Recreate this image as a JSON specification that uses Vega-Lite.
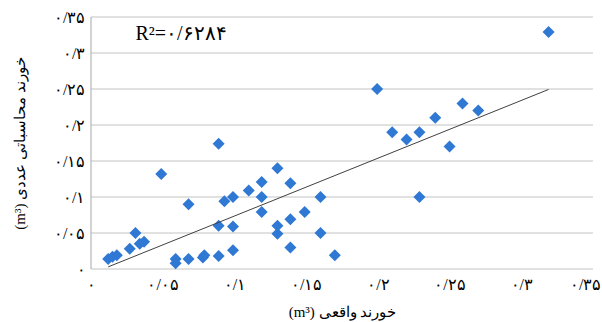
{
  "$schema": "https://vega.github.io/schema/vega-lite/v6.json",
  "width": 502,
  "height": 252,
  "autosize": {"type": "none"},
  "padding": {"left": 91, "top": 17, "right": 9, "bottom": 53},
  "background": "white",
  "config": {"view": {"stroke": "transparent"}},
  "datasets": {
    "points": [
      {"x": 0.012, "y": 0.014}, {"x": 0.015, "y": 0.017}, {"x": 0.018, "y": 0.019},
      {"x": 0.027, "y": 0.028}, {"x": 0.031, "y": 0.050}, {"x": 0.034, "y": 0.035},
      {"x": 0.037, "y": 0.038}, {"x": 0.049, "y": 0.132}, {"x": 0.059, "y": 0.014},
      {"x": 0.059, "y": 0.008}, {"x": 0.068, "y": 0.014}, {"x": 0.068, "y": 0.090},
      {"x": 0.078, "y": 0.016}, {"x": 0.079, "y": 0.019}, {"x": 0.089, "y": 0.174},
      {"x": 0.089, "y": 0.060}, {"x": 0.089, "y": 0.018}, {"x": 0.093, "y": 0.094},
      {"x": 0.099, "y": 0.100}, {"x": 0.099, "y": 0.059}, {"x": 0.099, "y": 0.026},
      {"x": 0.110, "y": 0.109}, {"x": 0.119, "y": 0.121}, {"x": 0.119, "y": 0.100},
      {"x": 0.119, "y": 0.079}, {"x": 0.130, "y": 0.140}, {"x": 0.130, "y": 0.060},
      {"x": 0.130, "y": 0.049}, {"x": 0.139, "y": 0.119}, {"x": 0.139, "y": 0.069},
      {"x": 0.139, "y": 0.030}, {"x": 0.149, "y": 0.079}, {"x": 0.160, "y": 0.100},
      {"x": 0.160, "y": 0.050}, {"x": 0.170, "y": 0.019}, {"x": 0.1995, "y": 0.250},
      {"x": 0.210, "y": 0.190}, {"x": 0.220, "y": 0.180}, {"x": 0.229, "y": 0.190},
      {"x": 0.229, "y": 0.100}, {"x": 0.240, "y": 0.210}, {"x": 0.250, "y": 0.170},
      {"x": 0.259, "y": 0.230}, {"x": 0.270, "y": 0.220}, {"x": 0.319, "y": 0.329}
    ],
    "hgrid": [
      {"x": 0, "x2": 0.35, "y": 0}, {"x": 0, "x2": 0.35, "y": 0.05}, {"x": 0, "x2": 0.35, "y": 0.1},
      {"x": 0, "x2": 0.35, "y": 0.15}, {"x": 0, "x2": 0.35, "y": 0.2}, {"x": 0, "x2": 0.35, "y": 0.25},
      {"x": 0, "x2": 0.35, "y": 0.3}, {"x": 0, "x2": 0.35, "y": 0.35}
    ],
    "vbase": [{"x": 0, "y": 0, "y2": 0.35}],
    "label": [{"x": 0.0628, "y": 0.326, "text": "R²=۰/۶۲۸۴"}]
  },
  "encoding": {
    "x": {
      "field": "x", "type": "quantitative",
      "scale": {"domain": [0, 0.35], "nice": false},
      "axis": {
        "title": "(m³) خورند واقعی",
        "values": [0, 0.05, 0.1, 0.15, 0.2, 0.25, 0.3, 0.35],
        "labelOverlap": false, "labelFlush": false,
        "labelAlign": {"condition": {"test": "datum.value >= 0.34", "value": "right"}, "value": "center"},
        "labelOffset": {"condition": {"test": "datum.value >= 0.34", "value": 8}, "value": 0},
        "grid": false, "tickSize": 0, "domain": false,
        "labelPadding": 7, "labelFontSize": 16, "labelColor": "#000", "labelFont": "Liberation Serif",
        "titleFontSize": 15, "titleFontWeight": "normal", "titleColor": "#000", "titlePadding": 12, "titleFont": "Liberation Serif",
        "labelExpr": "replace(replace(replace(replace(replace(replace(format(datum.value,'.2~f'),'.','/'),regexp('0','g'),'۰'),regexp('1','g'),'۱'),regexp('2','g'),'۲'),regexp('3','g'),'۳'),regexp('5','g'),'۵')"
      }
    },
    "y": {
      "field": "y", "type": "quantitative",
      "scale": {"domain": [0, 0.35], "nice": false},
      "axis": {
        "title": "(m³) خورند محاسباتی عددی",
        "values": [0, 0.05, 0.1, 0.15, 0.2, 0.25, 0.3, 0.35],
        "labelOverlap": false,
        "grid": false, "tickSize": 0, "domain": false,
        "labelPadding": 6, "labelFontSize": 16, "labelColor": "#000", "labelFont": "Liberation Serif",
        "titleFontSize": 15, "titleFontWeight": "normal", "titleColor": "#000", "titlePadding": 26, "titleFont": "Liberation Serif",
        "labelExpr": "replace(replace(replace(replace(replace(replace(format(datum.value,'.2~f'),'.','/'),regexp('0','g'),'۰'),regexp('1','g'),'۱'),regexp('2','g'),'۲'),regexp('3','g'),'۳'),regexp('5','g'),'۵')"
      }
    }
  },
  "layer": [
    {
      "data": {"name": "hgrid"},
      "mark": {"type": "rule", "color": "#c4c4c4", "strokeWidth": 1.2},
      "encoding": {"x2": {"field": "x2"}}
    },
    {
      "data": {"name": "vbase"},
      "mark": {"type": "rule", "color": "#b5b5b5", "strokeWidth": 1.2},
      "encoding": {"y2": {"field": "y2"}}
    },
    {
      "data": {"name": "points"},
      "mark": {"type": "point", "shape": "diamond", "filled": true, "size": 144, "color": "#2F78D4", "opacity": 1}
    },
    {
      "data": {"name": "points"},
      "transform": [{"regression": "y", "on": "x"}],
      "mark": {"type": "line", "color": "#404040", "strokeWidth": 1}
    },
    {
      "data": {"name": "label"},
      "mark": {"type": "text", "fontSize": 20, "font": "Liberation Serif", "color": "#000"},
      "encoding": {"text": {"field": "text"}}
    }
  ]
}
